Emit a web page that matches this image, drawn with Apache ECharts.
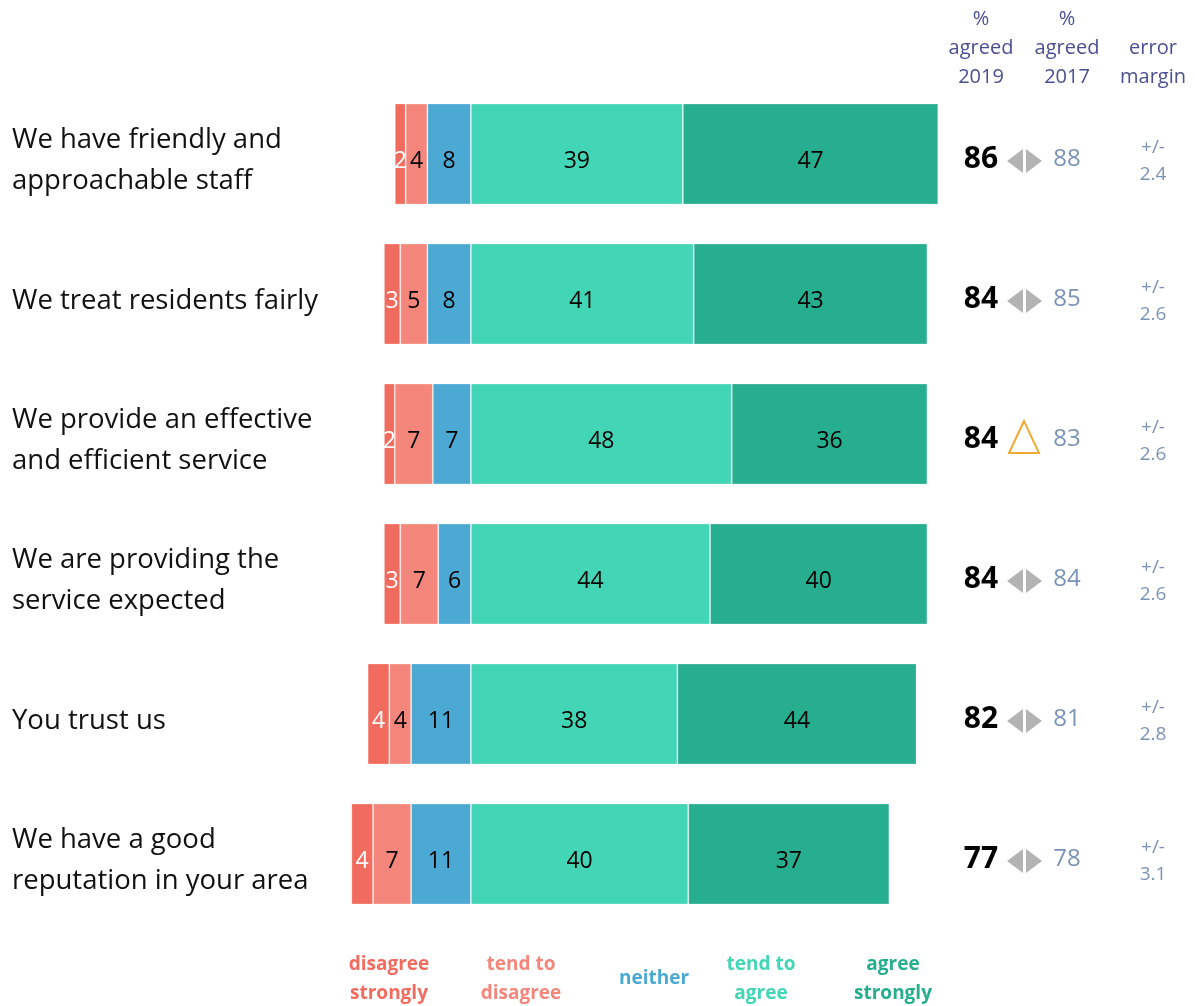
<!DOCTYPE html>
<html>
<head>
<meta charset="utf-8">
<script src="https://cdn.jsdelivr.net/npm/echarts@6/dist/echarts.min.js"></script>
<style>
  html, body { margin: 0; padding: 0; background: #fff; }
  #chart { width: 1195px; height: 1006px; }
</style>
</head>
<body>
<div id="chart"></div>
<script>
// Survey statements (top to bottom)
const categories = [
  'We have friendly and\napproachable staff',
  'We treat residents fairly',
  'We provide an effective\nand efficient service',
  'We are providing the\nservice expected',
  'You trust us',
  'We have a good\nreputation in your area'
];

// Response shares, %
const disagreeStrongly = [2, 3, 2, 3, 4, 4];
const tendToDisagree   = [4, 5, 7, 7, 4, 7];
const neither          = [8, 8, 7, 6, 11, 11];
const tendToAgree      = [39, 41, 48, 44, 38, 40];
const agreeStrongly    = [47, 43, 36, 40, 44, 37];

// Right-hand summary columns
const agreed2019  = [86, 84, 84, 84, 82, 77];
const agreed2017  = [88, 85, 83, 84, 81, 78];
const errorMargin = ['2.4', '2.6', '2.6', '2.6', '2.8', '3.1'];
const change      = ['same', 'same', 'up', 'same', 'same', 'same'];

const columnHeaders = ['%\nagreed\n2019', '%\nagreed\n2017', 'error\nmargin'];
const legendNames = ['disagree\nstrongly', 'tend to\ndisagree', 'neither', 'tend to\nagree', 'agree\nstrongly'];

const COLORS = {
  disagreeStrongly: '#F26B5F',
  tendToDisagree: '#F4867B',
  neither: '#4BA9D3',
  tendToAgree: '#43D6B6',
  agreeStrongly: '#26AE8F'
};
const legendColors = [COLORS.disagreeStrongly, COLORS.tendToDisagree, COLORS.neither, COLORS.tendToAgree, COLORS.agreeStrongly];

const FONT = '"Open Sans", "Noto Sans", sans-serif';

// column positions for the statement text, summary block and legend
const labelX = 12;
const colX = { y2019: 981, arrow: 1024, y2017: 1067, err: 1153 };
const legendX = [389, 521, 654, 761, 893];

const chart = echarts.init(document.getElementById('chart'));

function barSeries(name, values, color, negative, labelColor) {
  return {
    name: name,
    type: 'bar',
    stack: 'likert',
    barWidth: 101,
    data: values.map(v => negative ? -v : v),
    itemStyle: { color: color, borderColor: 'rgba(255,255,255,0.25)', borderWidth: 1 },
    label: {
      show: true,
      position: 'inside',
      formatter: p => Math.abs(p.value),
      color: labelColor,
      fontFamily: FONT,
      fontSize: 23,
      offset: [0, 7]
    },
    emphasis: { disabled: true },
    silent: true
  };
}

// Statement text on the left plus the 2019 / 2017 / error-margin block on the right
function rowItem(params, api) {
  const i = api.value(1);
  const cy = api.coord([0, i])[1];
  const children = [
    {
      type: 'text',
      style: {
        text: categories[i], x: labelX, y: cy + 7,
        fill: '#111', font: '27.5px ' + FONT, lineHeight: 41, align: 'left', verticalAlign: 'middle'
      }
    },
    {
      type: 'text',
      style: {
        text: String(agreed2019[i]), x: colX.y2019, y: cy + 5,
        fill: '#000', font: 'bold 30px ' + FONT, align: 'center', verticalAlign: 'middle'
      }
    },
    {
      type: 'text',
      style: {
        text: String(agreed2017[i]), x: colX.y2017, y: cy + 5,
        fill: '#7A93B6', font: '24px ' + FONT, align: 'center', verticalAlign: 'middle'
      }
    },
    {
      type: 'text',
      style: {
        text: '+/-\n' + errorMargin[i], x: colX.err, y: cy + 7,
        fill: '#7A93B6', font: '19px ' + FONT, lineHeight: 27, align: 'center', verticalAlign: 'middle'
      }
    }
  ];
  const c = cy + 7;
  if (change[i] === 'up') {
    children.push({
      type: 'polygon',
      shape: { points: [[colX.arrow, cy - 13], [colX.arrow - 15, cy + 19], [colX.arrow + 15, cy + 19]] },
      style: { fill: 'none', stroke: '#F0A935', lineWidth: 2 }
    });
  } else {
    children.push({
      type: 'polygon',
      shape: { points: [[colX.arrow - 1, c - 12], [colX.arrow - 17, c], [colX.arrow - 1, c + 12]] },
      style: { fill: '#B3B3B3' }
    });
    children.push({
      type: 'polygon',
      shape: { points: [[colX.arrow + 2, c - 12], [colX.arrow + 18, c], [colX.arrow + 2, c + 12]] },
      style: { fill: '#B3B3B3' }
    });
  }
  return { type: 'group', children: children };
}

const graphics = [];
columnHeaders.forEach((t, k) => {
  graphics.push({
    type: 'text',
    x: [colX.y2019, colX.y2017, colX.err][k],
    y: 92,
    style: {
      text: t, fill: '#4A4F92', font: '20px ' + FONT, lineHeight: 29,
      align: 'center', verticalAlign: 'bottom'
    }
  });
});
legendNames.forEach((t, k) => {
  graphics.push({
    type: 'text',
    x: legendX[k],
    y: 979,
    style: {
      text: t, fill: legendColors[k], font: 'bold 19px ' + FONT, lineHeight: 29,
      align: 'center', verticalAlign: 'middle'
    }
  });
});

chart.setOption({
  animation: false,
  backgroundColor: '#fff',
  grid: { left: 335, width: 625, top: 84, height: 840, containLabel: false },
  xAxis: {
    type: 'value', min: -25, max: 90,
    show: false
  },
  yAxis: {
    type: 'category',
    data: categories,
    inverse: true,
    axisLine: { show: false },
    axisTick: { show: false },
    splitLine: { show: false },
    axisLabel: { show: false }
  },
  series: [
    barSeries('neither', neither, COLORS.neither, true, '#000'),
    barSeries('tend to disagree', tendToDisagree, COLORS.tendToDisagree, true, '#000'),
    barSeries('disagree strongly', disagreeStrongly, COLORS.disagreeStrongly, true, '#fff'),
    barSeries('tend to agree', tendToAgree, COLORS.tendToAgree, false, '#000'),
    barSeries('agree strongly', agreeStrongly, COLORS.agreeStrongly, false, '#000'),
    {
      type: 'custom',
      name: 'rows',
      clip: false,
      silent: true,
      renderItem: rowItem,
      encode: { x: 0, y: 1 },
      data: categories.map((c, i) => [0, i])
    }
  ],
  graphic: graphics
});
</script>
</body>
</html>
